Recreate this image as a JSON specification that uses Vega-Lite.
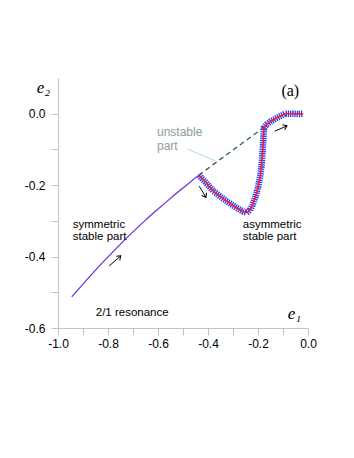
{
  "$schema": "https://vega.github.io/schema/vega-lite/v6.json",
  "width": 250,
  "height": 250,
  "autosize": {"type": "none"},
  "padding": {"left": 58, "top": 78, "right": 46, "bottom": 130},
  "background": "white",
  "config": {
    "view": {"stroke": null},
    "axis": {
      "grid": false,
      "domainColor": "#c4c4c4",
      "tickColor": "#c4c4c4",
      "tickSize": 7,
      "labelFont": "Liberation Sans",
      "labelFontSize": 12,
      "labelColor": "#000000",
      "titleFont": "Liberation Serif",
      "titleFontStyle": "italic",
      "titleFontWeight": "normal",
      "titleFontSize": 17,
      "titleColor": "#000000"
    }
  },
  "datasets": {
    "sym": [
      {"e1": -0.945, "e2": -0.513, "i": 0},
      {"e1": -0.9, "e2": -0.477, "i": 1},
      {"e1": -0.85, "e2": -0.438, "i": 2},
      {"e1": -0.8, "e2": -0.401, "i": 3},
      {"e1": -0.75, "e2": -0.365, "i": 4},
      {"e1": -0.7, "e2": -0.331, "i": 5},
      {"e1": -0.65, "e2": -0.298, "i": 6},
      {"e1": -0.6, "e2": -0.267, "i": 7},
      {"e1": -0.55, "e2": -0.237, "i": 8},
      {"e1": -0.5, "e2": -0.208, "i": 9},
      {"e1": -0.437, "e2": -0.172, "i": 10}
    ],
    "asym": [
      {"e1": -0.437, "e2": -0.172, "i": 0},
      {"e1": -0.41, "e2": -0.192, "i": 1},
      {"e1": -0.379, "e2": -0.216, "i": 2},
      {"e1": -0.345, "e2": -0.235, "i": 3},
      {"e1": -0.312, "e2": -0.251, "i": 4},
      {"e1": -0.285, "e2": -0.264, "i": 5},
      {"e1": -0.259, "e2": -0.274, "i": 6},
      {"e1": -0.245, "e2": -0.277, "i": 7},
      {"e1": -0.232, "e2": -0.270, "i": 8},
      {"e1": -0.222, "e2": -0.256, "i": 9},
      {"e1": -0.21, "e2": -0.232, "i": 10},
      {"e1": -0.199, "e2": -0.204, "i": 11},
      {"e1": -0.19, "e2": -0.170, "i": 12},
      {"e1": -0.185, "e2": -0.140, "i": 13},
      {"e1": -0.181, "e2": -0.100, "i": 14},
      {"e1": -0.178, "e2": -0.065, "i": 15},
      {"e1": -0.176, "e2": -0.040, "i": 16},
      {"e1": -0.165, "e2": -0.030, "i": 17},
      {"e1": -0.15, "e2": -0.022, "i": 18},
      {"e1": -0.12, "e2": -0.010, "i": 19},
      {"e1": -0.092, "e2": 0.0, "i": 20},
      {"e1": -0.06, "e2": 0.0, "i": 21},
      {"e1": -0.04, "e2": -0.001, "i": 22},
      {"e1": -0.019, "e2": 0.0, "i": 23}
    ],
    "unstable": [
      {"e1": -0.437, "e2": -0.172},
      {"e1": -0.176, "e2": -0.038}
    ],
    "leader": [
      {"e1": -0.481, "e2": -0.099},
      {"e1": -0.372, "e2": -0.132}
    ],
    "labels": [
      {"e1": -0.941, "e2": -0.311, "t": "symmetric"},
      {"e1": -0.941, "e2": -0.345, "t": "stable part"},
      {"e1": -0.261, "e2": -0.311, "t": "asymmetric"},
      {"e1": -0.261, "e2": -0.345, "t": "stable part"},
      {"e1": -0.849, "e2": -0.558, "t": "2/1 resonance"}
    ],
    "grey": [
      {"e1": -0.604, "e2": -0.052, "t": "unstable"},
      {"e1": -0.604, "e2": -0.090, "t": "part"}
    ],
    "panel": [{"e1": -0.071, "e2": 0.065, "t": "(a)"}],
    "arrows": [
      {"e1": -0.795, "e2": -0.426, "f1": -0.749, "f2": -0.398},
      {"e1": -0.435, "e2": -0.203, "f1": -0.408, "f2": -0.234},
      {"e1": -0.133, "e2": -0.049, "f1": -0.084, "f2": -0.034}
    ],
    "head1": [{"e1": -0.749, "e2": -0.398}],
    "head2": [{"e1": -0.408, "e2": -0.234}],
    "head3": [{"e1": -0.084, "e2": -0.034}]
  },
  "encoding": {
    "x": {
      "field": "e1", "type": "quantitative",
      "scale": {"domain": [-1, 0], "nice": false, "zero": false},
      "axis": {
        "values": [-1, -0.9, -0.8, -0.7, -0.6, -0.5, -0.4, -0.3, -0.2, -0.1, 0],
        "labelExpr": "abs(round(datum.value*10))%2==0 ? replace(format(datum.value,'.1f'),'\u2212','-') : ''",
        "labelPadding": 3,
        "title": "e₁",
        "titleX": 236,
        "titleY": -10,
        "titleAlign": "center",
        "titleBaseline": "alphabetic",
        "labelFlush": false,
        "labelOverlap": false
      }
    },
    "y": {
      "field": "e2", "type": "quantitative",
      "scale": {"domain": [-0.6, 0.1], "nice": false, "zero": false},
      "axis": {
        "values": [-0.6, -0.5, -0.4, -0.3, -0.2, -0.1, 0],
        "labelExpr": "abs(round(datum.value*10))%2==0 ? replace(format(datum.value,'.1f'),'\u2212','-') : ''",
        "labelPadding": 6,
        "title": "e₂",
        "titleAngle": 0,
        "titleX": -15,
        "titleY": 14,
        "titleAlign": "center",
        "titleBaseline": "alphabetic",
        "labelOverlap": false
      }
    }
  },
  "layer": [
    {
      "data": {"name": "leader"},
      "mark": {"type": "line", "color": "#a9d2ef", "strokeWidth": 0.9}
    },
    {
      "data": {"name": "unstable"},
      "mark": {"type": "line", "color": "#2d5e50", "strokeWidth": 1.3, "strokeDash": [5, 3.5]}
    },
    {
      "data": {"name": "sym"},
      "mark": {"type": "line", "color": "#6a2bd9", "strokeWidth": 1.2, "interpolate": "monotone"},
      "encoding": {"order": {"field": "i"}}
    },
    {
      "data": {"name": "asym"},
      "mark": {"type": "line", "color": "#1f3cff", "strokeWidth": 6.5, "strokeDash": [1.3, 0.9]},
      "encoding": {"order": {"field": "i"}}
    },
    {
      "data": {"name": "asym"},
      "mark": {"type": "line", "color": "#ff1a1a", "strokeWidth": 1.6},
      "encoding": {"order": {"field": "i"}}
    },
    {
      "data": {"name": "labels"},
      "mark": {"type": "text", "align": "left", "baseline": "middle", "font": "Liberation Sans", "fontSize": 11.5, "color": "#000000"},
      "encoding": {"text": {"field": "t"}}
    },
    {
      "data": {"name": "grey"},
      "mark": {"type": "text", "align": "left", "baseline": "middle", "font": "Liberation Sans", "fontSize": 12, "color": "#8c9e9e"},
      "encoding": {"text": {"field": "t"}}
    },
    {
      "data": {"name": "panel"},
      "mark": {"type": "text", "align": "center", "baseline": "middle", "font": "Liberation Serif", "fontSize": 16, "color": "#000000"},
      "encoding": {"text": {"field": "t"}}
    },
    {
      "data": {"name": "arrows"},
      "mark": {"type": "rule", "color": "#000000", "strokeWidth": 1},
      "encoding": {"x2": {"field": "f1"}, "y2": {"field": "f2"}}
    },
    {
      "data": {"name": "head1"},
      "mark": {"type": "point", "shape": "M-1,-0.75L0,0L-1,0.75", "filled": false, "stroke": "#000000", "strokeWidth": 1, "size": 55, "angle": -41, "opacity": 1}
    },
    {
      "data": {"name": "head2"},
      "mark": {"type": "point", "shape": "M-1,-0.75L0,0L-1,0.75", "filled": false, "stroke": "#000000", "strokeWidth": 1, "size": 55, "angle": 59, "opacity": 1}
    },
    {
      "data": {"name": "head3"},
      "mark": {"type": "point", "shape": "M-1,-0.75L0,0L-1,0.75", "filled": false, "stroke": "#000000", "strokeWidth": 1, "size": 55, "angle": -23, "opacity": 1}
    }
  ]
}
